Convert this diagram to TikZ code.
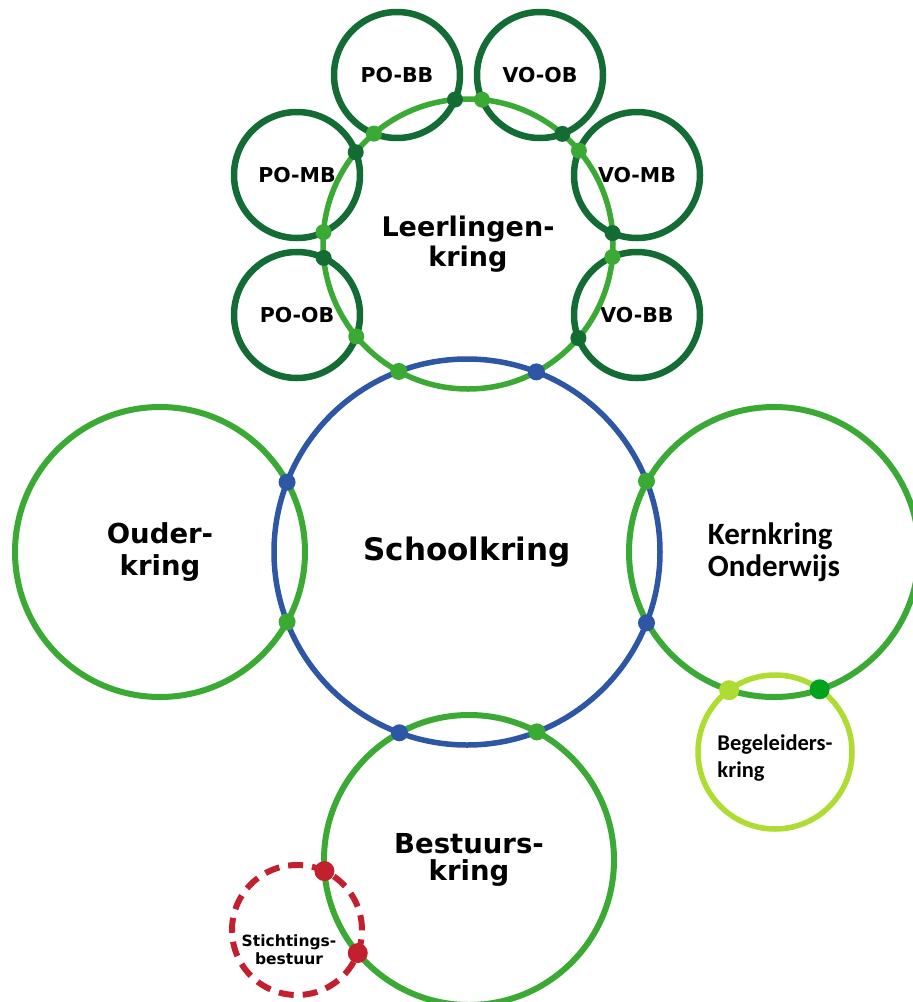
\documentclass[tikz,border=0pt]{standalone}
\usepackage{fontspec}
\newfontfamily\vfont{DejaVu Sans}
\newfontfamily\cfont{Carlito}
\definecolor{dg}{HTML}{146C35}
\definecolor{mg}{HTML}{3BAA35}
\definecolor{bl}{HTML}{2D56A5}
\definecolor{yg}{HTML}{AEDC32}
\definecolor{bg}{HTML}{00A21E}
\definecolor{rd}{HTML}{C3202F}
% dots at the two crossings of circle A (#1,#2,r #3) and circle B (#4,#5,r #6)
\newcommand\meetdots[9]{%
  \pgfmathsetmacro\mdDX{(#4-#1)/10}%
  \pgfmathsetmacro\mdDY{(#5-#2)/10}%
  \pgfmathsetmacro\mdD{sqrt(\mdDX*\mdDX+\mdDY*\mdDY)}%
  \pgfmathsetmacro\mdA{((#3/10)*(#3/10)-(#6/10)*(#6/10)+\mdD*\mdD)/(2*\mdD)}%
  \pgfmathsetmacro\mdH{sqrt((#3/10)*(#3/10)-\mdA*\mdA)}%
  \pgfmathsetmacro\mdPX{#1+10*(\mdA*\mdDX-\mdH*\mdDY)/\mdD}%
  \pgfmathsetmacro\mdPY{#2+10*(\mdA*\mdDY+\mdH*\mdDX)/\mdD}%
  \pgfmathsetmacro\mdQX{#1+10*(\mdA*\mdDX+\mdH*\mdDY)/\mdD}%
  \pgfmathsetmacro\mdQY{#2+10*(\mdA*\mdDY-\mdH*\mdDX)/\mdD}%
  \fill[#7] (\mdPX,\mdPY) circle[radius=#9];
  \fill[#8] (\mdQX,\mdQY) circle[radius=#9];
}
\begin{document}
\begin{tikzpicture}[x=1pt,y=-1pt,
  ring/.style={circle, draw, inner sep=0pt, outer sep=0pt, minimum size=#1pt},
  smallring/.style={ring=126, draw=dg, line width=6.5pt,
    font=\vfont\bfseries\fontsize{20.5}{24}\selectfont},
  bigring/.style={ring=290, draw=mg, line width=6pt, align=center},
  vlabel/.style={font=\vfont\bfseries\fontsize{27}{30}\selectfont},
]
\clip (0,0) rectangle (913,1002);
\fill[white] (0,0) rectangle (913,1002);

% small rings around the Leerlingenkring
\node[smallring] (pobb) at (397,75) {PO-BB};
\node[smallring] (voob) at (540,75) {VO-OB};
\node[smallring] (pomb) at (297,175) {PO-MB};
\node[smallring] (vomb) at (637,175) {VO-MB};
\node[smallring] (poob) at (297,315) {PO-OB};
\node[smallring] (vobb) at (637,315) {VO-BB};

% main rings
\node[bigring, line width=5.5pt, vlabel] (lk) at (468,244) {Leerlingen-\\kring};
\node[ring=386, draw=bl, line width=5.5pt,
      font=\vfont\bfseries\fontsize{31}{34}\selectfont] (sk) at (467,552) {Schoolkring};
\node[bigring, font=\vfont\bfseries\fontsize{27.5}{32}\selectfont] (ok) at (160,552) {Ouder-\\kring};
\node[bigring, align=left, font=\cfont\bfseries\fontsize{31}{32}\selectfont] (kk) at (774,552) {Kernkring\\Onderwijs};
\node[bigring, font=\vfont\bfseries\fontsize{27.5}{26.5}\selectfont] (bk) at (469,860) {Bestuurs-\\kring};
\node[ring=154, draw=yg, line width=5.5pt] (gk) at (775,752) {};
\node[align=left, inner sep=0pt, font=\cfont\bfseries\fontsize{22.5}{27}\selectfont] (gt) at (775,758) {Begeleiders-\\kring};
\node[ring=130, draw=rd, line width=6pt, dash pattern=on 15pt off 9pt] (tk) at (297,930) {};
\node[align=center, inner sep=0pt, font=\vfont\bfseries\fontsize{15.5}{18}\selectfont] (tt) at (289,950) {Stichtings-\\bestuur};

% crossing dots
\meetdots{468}{244}{145}{397}{75}{63}{dg}{mg}{8}
\meetdots{468}{244}{145}{540}{75}{63}{dg}{mg}{8}
\meetdots{468}{244}{145}{297}{175}{63}{dg}{mg}{8}
\meetdots{468}{244}{145}{637}{175}{63}{dg}{mg}{8}
\meetdots{468}{244}{145}{297}{315}{63}{dg}{mg}{8}
\meetdots{468}{244}{145}{637}{315}{63}{dg}{mg}{8}
\meetdots{467}{552}{193}{468}{244}{145}{bl}{mg}{8.5}
\meetdots{467}{552}{193}{160}{552}{145}{bl}{mg}{8.5}
\meetdots{467}{552}{193}{773}{552}{145}{bl}{mg}{8.5}
\meetdots{467}{552}{193}{469}{860}{145}{bl}{mg}{8.5}
\meetdots{773}{552}{145}{775}{752}{77}{yg}{bg}{10}
\meetdots{469}{860}{145}{297}{930}{65}{rd}{rd}{10}
\end{tikzpicture}
\end{document}
